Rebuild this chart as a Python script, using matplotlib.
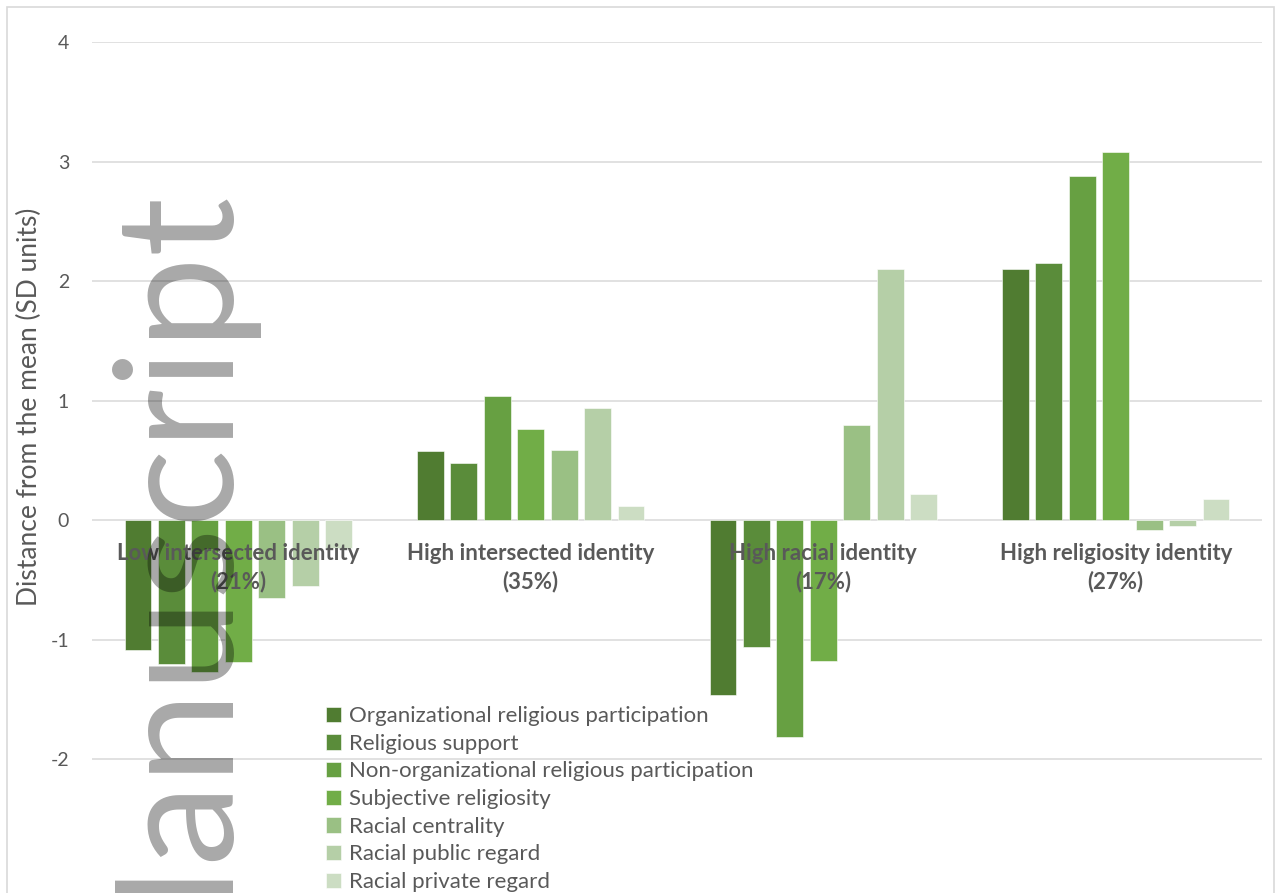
import matplotlib
matplotlib.use("Agg")
import matplotlib.pyplot as plt
import numpy as np
from matplotlib.patches import Rectangle

# clusters and their share of the sample
categories = ["Low intersected identity", "High intersected identity",
              "High racial identity", "High religiosity identity"]
shares = ["(21%)", "(35%)", "(17%)", "(27%)"]

# distance from the mean (SD units), one list per indicator
org_participation = [-1.09, 0.58, -1.46, 2.10]
religious_support = [-1.20, 0.48, -1.06, 2.15]
nonorg_participation = [-1.27, 1.04, -1.81, 2.88]
subjective_religiosity = [-1.19, 0.76, -1.18, 3.08]
racial_centrality = [-0.65, 0.59, 0.80, -0.08]
racial_public_regard = [-0.55, 0.94, 2.10, -0.045]
racial_private_regard = [-0.23, 0.12, 0.22, 0.18]

series_names = ["Organizational religious participation", "Religious support",
                "Non-organizational religious participation", "Subjective religiosity",
                "Racial centrality", "Racial public regard", "Racial private regard"]
series = [org_participation, religious_support, nonorg_participation,
          subjective_religiosity, racial_centrality, racial_public_regard,
          racial_private_regard]
colors = ["#507C31", "#5A8C3A", "#67A042", "#71AD47", "#9AC084", "#B5CFA7", "#CCDDC3"]

yticks = [-2, -1, 0, 1, 2, 3, 4]

W, H = 1276, 893
fig = plt.figure(figsize=(W / 100, H / 100), dpi=100)
plt.rcParams['font.family'] = ['Lato', 'DejaVu Sans']
grey = "#595959"

# plot area: x 92..1262 px, y=4 at 42 px, y=0 at 520 px
px_per_unit = 119.6
ymin = -(H - 520) / px_per_unit
ax = fig.add_axes([92 / W, 0, (1262 - 92) / W, 1 - 42 / H])
ax.set_xlim(-0.5, 3.5)
ax.set_ylim(ymin, 4)

for y in yticks:
    ax.axhline(y, color="#D9D9D9", lw=1.1, zorder=0)

n = len(series)
step = 0.8 / n
x = np.arange(len(categories))
for i, (vals, name, c) in enumerate(zip(series, series_names, colors)):
    ax.bar(x - 0.4 + step * (i + 0.5), vals, width=0.092, color=c,
           edgecolor="white", linewidth=0.4, label=name, zorder=2)

ax.set_yticks(yticks)
ax.set_yticklabels([str(v) for v in yticks], fontsize=14, color=grey)
ax.tick_params(axis="y", length=0, pad=16.5)
ax.set_xticks([])
for s in ax.spines.values():
    s.set_visible(False)

for i, (cat, sh) in enumerate(zip(categories, shares)):
    ax.annotate(cat, xy=(i, 0), xytext=(0, -40), textcoords="offset pixels",
                ha="center", va="baseline", fontsize=16, fontweight="bold",
                color=grey, zorder=5)
    ax.annotate(sh, xy=(i, 0), xytext=(0, -68), textcoords="offset pixels",
                ha="center", va="baseline", fontsize=16, fontweight="bold",
                color=grey, zorder=5)

fig.text(29 / W, 1 - 407 / H, "Distance from the mean (SD units)", rotation=90,
         ha="center", va="center", fontsize=19, color=grey)

leg = ax.legend(loc="upper left", bbox_to_anchor=(326 / W, 1 - 706 / H),
                bbox_transform=fig.transFigure, frameon=False, fontsize=16,
                handlelength=0.68, handleheight=0.68, handletextpad=0.35,
                labelspacing=0.345, borderpad=0, borderaxespad=0)
for t in leg.get_texts():
    t.set_color(grey)

# outer chart border
fig.patches.append(Rectangle((7 / W, -0.05), (1274 - 7) / W, 1 - 7 / H + 0.05,
                             transform=fig.transFigure, fill=False,
                             edgecolor="#D9D9D9", lw=1.2))

# watermark
fig.text(219 / W, 1 - 181 / H, "Manuscript", rotation=90, rotation_mode="anchor",
         ha="right", va="baseline", fontsize=119, color=(0, 0, 0, 0.34),
         zorder=10)

fig.savefig("out.png", dpi=100)
